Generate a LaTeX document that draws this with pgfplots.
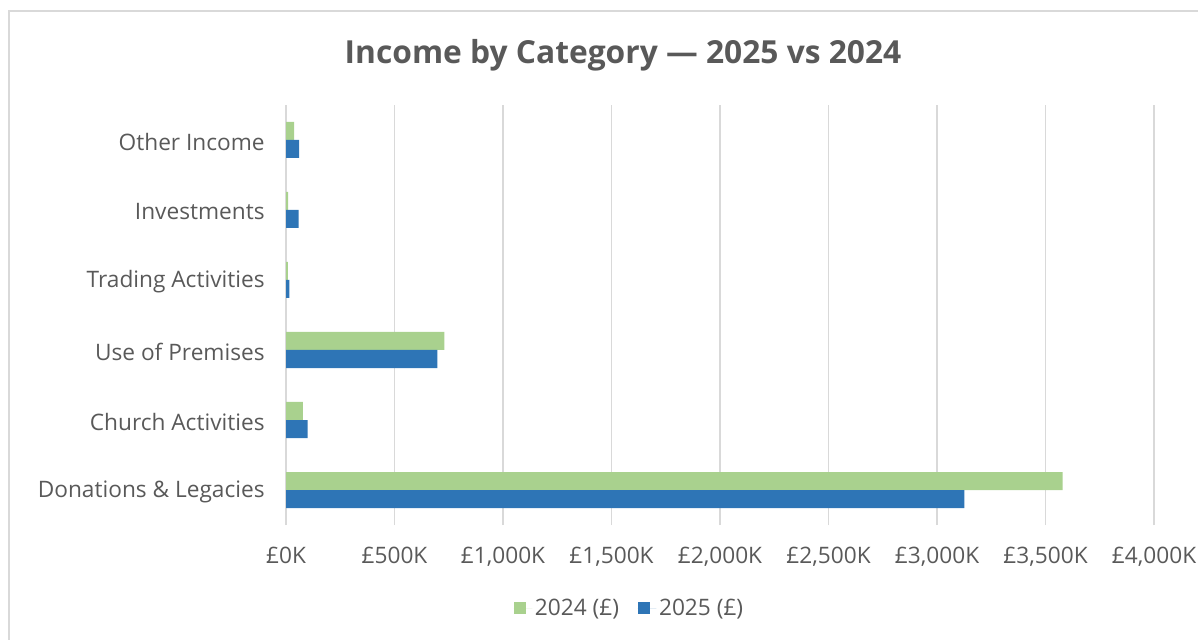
\documentclass[border=0pt]{standalone}
\usepackage{fontspec}
\setmainfont{Open Sans}
\usepackage{pgfplots}
\pgfplotsset{compat=1.18}
\definecolor{cgreen}{HTML}{A9D18E}
\definecolor{cblue}{HTML}{2E75B6}
\definecolor{ctext}{HTML}{595959}
\definecolor{cgrid}{HTML}{D9D9D9}
\begin{document}
\begin{tikzpicture}[x=0.75pt,y=0.75pt]
\useasboundingbox (0,0) rectangle (1198,639);
\draw[cgrid, line width=1.5pt] (9,-10) -- (9,628) -- (1210,628);
\node[text=ctext, font=\bfseries\fontsize{23.8}{28}\selectfont] at (623,584) {Income by Category — 2025 vs 2024};
\begin{axis}[
  at={(214.5pt,85.5pt)}, anchor=south west, scale only axis,
  width=651pt, height=315pt,
  xbar, bar width=13.5pt,
  xmin=0, xmax=4000, ymin=-0.5, ymax=5.5,
  xtick={0,500,1000,1500,2000,2500,3000,3500,4000},
  xticklabels={£0K,£500K,{£1,000K},{£1,500K},{£2,000K},{£2,500K},{£3,000K},{£3,500K},{£4,000K}},
  ytick={0,1,2,3,4,5},
  yticklabels={Donations \& Legacies,Church Activities,Use of Premises,Trading Activities,Investments,Other Income},
  axis line style={draw=none}, major tick length=0pt,
  xmajorgrids, grid style={cgrid, line width=1.2pt},
  tick label style={text=ctext, font=\fontsize{17}{20}\selectfont},
  xticklabel style={yshift=-13pt},
  yticklabel style={xshift=-12.5pt, yshift=-1.5pt},
  legend style={at={(0.396,-0.198)}, anchor=center, draw=none, legend columns=2,
    font=\fontsize{17}{20}\selectfont, text=ctext,
    /tikz/every even column/.append style={column sep=12pt}},
  legend image code/.code={\fill[#1] (0pt,-4.5pt) rectangle (9pt,4.5pt); \path (0pt,0pt) -- (14pt,0pt);},
]
\addplot[fill=cgreen, draw=none, bar shift=6.75pt] coordinates {
  (3579,0) (78,1) (730,2) (9,3) (10,4) (38,5)};
\addlegendentry{2024 (£)}
\addplot[fill=cblue, draw=none, bar shift=-6.75pt] coordinates {
  (3126,0) (100,1) (697,2) (15,3) (58,4) (61,5)};
\addlegendentry{2025 (£)}
\end{axis}
\end{tikzpicture}
\end{document}
